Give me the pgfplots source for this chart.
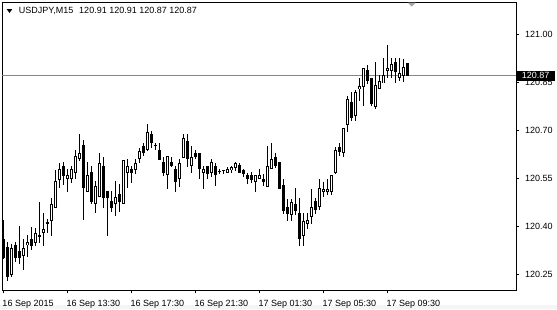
\documentclass[border=0pt]{standalone}
\usepackage{fontspec}
\setmainfont{Liberation Sans}
\usepackage{pgfplots}
\usepackage{pgfplotstable}
\pgfplotsset{compat=1.18}
\pgfplotstableread{
i O H L C
0 120.361 120.420 120.297 120.299
1 120.335 120.351 120.229 120.240
2 120.247 120.346 120.242 120.332
3 120.340 120.350 120.288 120.299
4 120.322 120.400 120.280 120.301
5 120.307 120.360 120.263 120.332
6 120.340 120.372 120.304 120.350
7 120.360 120.398 120.327 120.339
8 120.349 120.396 120.338 120.380
9 120.372 120.477 120.348 120.371
10 120.379 120.442 120.338 120.390
11 120.410 120.421 120.379 120.412
12 120.417 120.490 120.369 120.469
13 120.459 120.575 120.459 120.541
14 120.546 120.596 120.518 120.578
15 120.588 120.601 120.528 120.557
16 120.548 120.578 120.508 120.562
17 120.548 120.588 120.536 120.578
18 120.567 120.638 120.546 120.622
19 120.609 120.688 120.605 120.628
20 120.654 120.669 120.419 120.518
21 120.508 120.601 120.508 120.560
22 120.569 120.588 120.469 120.476
23 120.469 120.542 120.440 120.528
24 120.490 120.630 120.490 120.599
25 120.588 120.617 120.459 120.490
26 120.510 120.510 120.369 120.490
27 120.479 120.511 120.445 120.459
28 120.469 120.542 120.431 120.490
29 120.500 120.532 120.445 120.476
30 120.469 120.609 120.469 120.609
31 120.567 120.609 120.518 120.588
32 120.578 120.588 120.536 120.567
33 120.578 120.609 120.563 120.599
34 120.609 120.646 120.598 120.636
35 120.650 120.661 120.622 120.628
36 120.640 120.719 120.636 120.695
37 120.688 120.698 120.646 120.659
38 120.654 120.661 120.640 120.654
39 120.638 120.659 120.607 120.609
40 120.599 120.617 120.557 120.567
41 120.560 120.619 120.518 120.619
42 120.601 120.617 120.586 120.588
43 120.578 120.588 120.508 120.539
44 120.549 120.609 120.523 120.598
45 120.615 120.688 120.615 120.678
46 120.669 120.688 120.584 120.612
47 120.588 120.650 120.565 120.619
48 120.630 120.640 120.612 120.617
49 120.628 120.628 120.549 120.578
50 120.567 120.588 120.518 120.578
51 120.588 120.588 120.549 120.563
52 120.567 120.609 120.554 120.601
53 120.588 120.598 120.525 120.560
54 120.573 120.578 120.563 120.573
55 120.575 120.575 120.563 120.575
56 120.567 120.584 120.567 120.578
57 120.575 120.588 120.567 120.586
58 120.584 120.601 120.573 120.598
59 120.591 120.598 120.567 120.567
60 120.578 120.578 120.554 120.565
61 120.560 120.567 120.532 120.549
62 120.560 120.570 120.536 120.546
63 120.539 120.560 120.508 120.560
64 120.549 120.578 120.549 120.560
65 120.549 120.563 120.525 120.539
66 120.525 120.650 120.525 120.588
67 120.578 120.661 120.578 120.609
68 120.619 120.630 120.581 120.588
69 120.601 120.601 120.518 120.518
70 120.528 120.549 120.438 120.448
71 120.459 120.487 120.417 120.438
72 120.435 120.487 120.417 120.476
73 120.469 120.518 120.435 120.448
74 120.440 120.490 120.338 120.359
75 120.369 120.440 120.338 120.417
76 120.409 120.440 120.390 120.419
77 120.429 120.518 120.409 120.459
78 120.479 120.490 120.440 120.450
79 120.459 120.549 120.450 120.518
80 120.508 120.539 120.490 120.518
81 120.508 120.549 120.497 120.518
82 120.508 120.560 120.497 120.560
83 120.567 120.648 120.563 120.638
84 120.650 120.661 120.622 120.633
85 120.630 120.709 120.617 120.709
86 120.718 120.808 120.695 120.798
87 120.789 120.819 120.729 120.737
88 120.745 120.826 120.729 120.820
89 120.828 120.864 120.791 120.838
90 120.838 120.897 120.777 120.897
91 120.888 120.904 120.844 120.855
92 120.864 120.864 120.777 120.781
93 120.773 120.914 120.766 120.841
94 120.829 120.873 120.829 120.854
95 120.847 120.927 120.847 120.875
96 120.886 120.967 120.864 120.895
97 120.885 120.927 120.864 120.906
98 120.914 120.927 120.847 120.885
99 120.864 120.927 120.854 120.878
100 120.870 120.923 120.852 120.897
101 120.910 120.910 120.870 120.870
}\ohlc
\definecolor{pline}{RGB}{125,138,140}
\begin{document}
\begin{tikzpicture}[x=1pt,y=1pt]
\fill[gray!8] (0,0) rectangle (557,4);
\begin{axis}[
  at={(2pt,18.7pt)}, anchor=south west,
  scale only axis, width=514pt, height=288.3pt,
  xmin=-0.325, xmax=128.175, ymin=120.199, ymax=121.101,
  axis line style={line width=0.9pt},
  xtick={0,16,32,48,64,80,96},
  xticklabels={16 Sep 2015,16 Sep 13:30,16 Sep 17:30,16 Sep 21:30,17 Sep 01:30,17 Sep 05:30,17 Sep 09:30},
  ytick={120.25,120.40,120.55,120.70,120.85,121.00},
  yticklabels={120.25,120.40,120.55,120.70,120.85,121.00},
  xtick pos=bottom, ytick pos=right, yticklabel pos=right,
  tick align=outside, major tick length=3pt,
  tick style={black, line width=0.8pt},
  every tick label/.append style={font=\fontsize{9}{10}\selectfont, text=black},
  xticklabel style={anchor=north west, inner sep=0pt, xshift=-1pt, yshift=-6.5pt},
  yticklabel style={anchor=west, inner sep=0pt, xshift=6pt},
]
\addplot[pline, line width=0.9pt, forget plot] coordinates {(-1,120.87) (130,120.87)};
\addplot[draw=none, forget plot, error bars/.cd, y dir=both, y explicit, error mark=none,
  error bar style={draw=black, line width=1pt}]
  table[x=i, y expr={(\thisrow{H}+\thisrow{L})/2}, y error expr={(\thisrow{H}-\thisrow{L})/2}] {\ohlc};
\addplot[draw=none, forget plot, error bars/.cd, y dir=both, y explicit, error mark=none,
  error bar style={draw=black, line width=3pt}]
  table[x=i, y expr={(\thisrow{O}+\thisrow{C})/2}, y error expr={max(abs(\thisrow{C}-\thisrow{O})/2,0.0016)}] {\ohlc};
\addplot[draw=none, forget plot, restrict expr to domain={\thisrow{C}-\thisrow{O}}{0.007:1},
  error bars/.cd, y dir=both, y explicit, error mark=none,
  error bar style={draw=white, line width=1.1pt}]
  table[x=i, y expr={(\thisrow{O}+\thisrow{C})/2}, y error expr={(\thisrow{C}-\thisrow{O})/2-0.0031}] {\ohlc};
\coordinate (pl) at (axis cs:128.175,120.87);
\end{axis}
\node[fill=black, text=white, font=\fontsize{9}{10}\selectfont, anchor=west, inner sep=0pt,
  minimum width=39pt, minimum height=10.4pt] at (pl) {120.87};
\fill (6.7,300) -- (12.3,300) -- (9.5,296) -- cycle;
\node[anchor=west, inner sep=0pt, font=\fontsize{9}{10}\selectfont] at (18.7,297.8)
  {USDJPY,M15\hspace{6pt}120.91 120.91 120.87 120.87};
\fill[gray!70] (407.7,306.3) -- (415.7,306.3) -- (411.7,302.3) -- cycle;
\pgfresetboundingbox
\path[use as bounding box] (0,0) rectangle (557,309);
\end{tikzpicture}
\end{document}
